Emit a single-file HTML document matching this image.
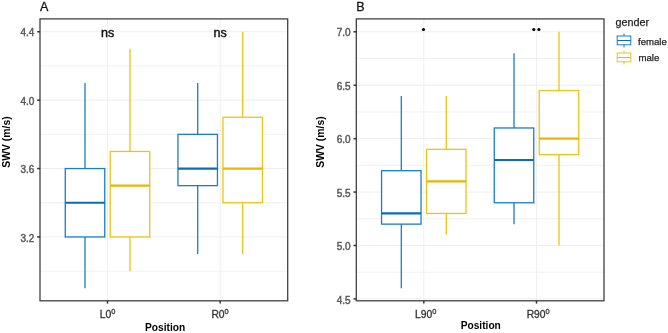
<!DOCTYPE html><html><head><meta charset="utf-8"><style>html,body{margin:0;padding:0;background:#fff;width:668px;height:333px;overflow:hidden}svg{display:block;filter:blur(0.25px)}text{font-family:"Liberation Sans",sans-serif}.tl{font-size:10px;fill:#5a5a5a;stroke:#5a5a5a;stroke-width:0.45px}.xl{font-size:10.3px;fill:#333;stroke:#333;stroke-width:0.3px}.ti{font-size:10.2px;font-weight:bold;fill:#000}.tag{font-size:12.5px;fill:#111;stroke:#111;stroke-width:0.3px}.ns{font-size:12.5px;fill:#111;stroke:#111;stroke-width:0.4px}.lg{font-size:9.6px;fill:#222;stroke:#222;stroke-width:0.25px}.lt{font-size:10.8px;fill:#222;stroke:#222;stroke-width:0.25px}</style></head><body>
<svg width="668" height="333" viewBox="0 0 668 333">
<rect width="668" height="333" fill="#fff"/>
<line x1="40" y1="271.15" x2="287.7" y2="271.15" stroke="#eeeeee" stroke-width="0.8"/>
<line x1="40" y1="202.75" x2="287.7" y2="202.75" stroke="#eeeeee" stroke-width="0.8"/>
<line x1="40" y1="134.35" x2="287.7" y2="134.35" stroke="#eeeeee" stroke-width="0.8"/>
<line x1="40" y1="65.95" x2="287.7" y2="65.95" stroke="#eeeeee" stroke-width="0.8"/>
<line x1="40" y1="236.95" x2="287.7" y2="236.95" stroke="#eeeeee" stroke-width="1.0"/>
<line x1="40" y1="168.55" x2="287.7" y2="168.55" stroke="#eeeeee" stroke-width="1.0"/>
<line x1="40" y1="100.15" x2="287.7" y2="100.15" stroke="#eeeeee" stroke-width="1.0"/>
<line x1="40" y1="31.75" x2="287.7" y2="31.75" stroke="#eeeeee" stroke-width="1.0"/>
<line x1="107.5" y1="18.9" x2="107.5" y2="300.8" stroke="#f0f0f0" stroke-width="1.0"/>
<line x1="220.2" y1="18.9" x2="220.2" y2="300.8" stroke="#f0f0f0" stroke-width="1.0"/>
<line x1="85" y1="83.05" x2="85" y2="168.55" stroke="#1a7dca" stroke-width="1.3"/>
<line x1="85" y1="236.95" x2="85" y2="288.25" stroke="#1a7dca" stroke-width="1.3"/>
<rect x="65.25" y="168.55" width="39.5" height="68.4" fill="#fff" stroke="#1a7dca" stroke-width="1.3"/>
<line x1="65.25" y1="202.75" x2="104.75" y2="202.75" stroke="#0b6cbd" stroke-width="2.2"/>
<line x1="130" y1="48.85" x2="130" y2="151.45" stroke="#efc21a" stroke-width="1.3"/>
<line x1="130" y1="236.95" x2="130" y2="271.15" stroke="#efc21a" stroke-width="1.3"/>
<rect x="110.25" y="151.45" width="39.5" height="85.5" fill="#fff" stroke="#efc21a" stroke-width="1.3"/>
<line x1="110.25" y1="185.65" x2="149.75" y2="185.65" stroke="#eab600" stroke-width="2.2"/>
<line x1="197.7" y1="83.05" x2="197.7" y2="134.35" stroke="#1a7dca" stroke-width="1.3"/>
<line x1="197.7" y1="185.65" x2="197.7" y2="254.05" stroke="#1a7dca" stroke-width="1.3"/>
<rect x="177.95" y="134.35" width="39.5" height="51.3" fill="#fff" stroke="#1a7dca" stroke-width="1.3"/>
<line x1="177.95" y1="168.55" x2="217.45" y2="168.55" stroke="#0b6cbd" stroke-width="2.2"/>
<line x1="242.7" y1="31.75" x2="242.7" y2="117.25" stroke="#efc21a" stroke-width="1.3"/>
<line x1="242.7" y1="202.75" x2="242.7" y2="254.05" stroke="#efc21a" stroke-width="1.3"/>
<rect x="222.95" y="117.25" width="39.5" height="85.5" fill="#fff" stroke="#efc21a" stroke-width="1.3"/>
<line x1="222.95" y1="168.55" x2="262.45" y2="168.55" stroke="#eab600" stroke-width="2.2"/>
<rect x="40" y="18.9" width="247.7" height="281.9" fill="none" stroke="#404040" stroke-width="1.3"/>
<line x1="37.2" y1="236.95" x2="40" y2="236.95" stroke="#333" stroke-width="1.5"/>
<text x="34" y="241.55" text-anchor="end" class="tl" dx="0.3">3.2</text>
<line x1="37.2" y1="168.55" x2="40" y2="168.55" stroke="#333" stroke-width="1.5"/>
<text x="34" y="173.15" text-anchor="end" class="tl" dx="0.3">3.6</text>
<line x1="37.2" y1="100.15" x2="40" y2="100.15" stroke="#333" stroke-width="1.5"/>
<text x="34" y="104.75" text-anchor="end" class="tl" dx="0.3">4.0</text>
<line x1="37.2" y1="31.75" x2="40" y2="31.75" stroke="#333" stroke-width="1.5"/>
<text x="34" y="36.35" text-anchor="end" class="tl" dx="0.3">4.4</text>
<line x1="107.5" y1="300.8" x2="107.5" y2="303.6" stroke="#333" stroke-width="1.5"/>
<text x="99.8" y="318.4" class="xl">L0<tspan dy="-4.3" font-size="7.4">0</tspan></text>
<line x1="220.2" y1="300.8" x2="220.2" y2="303.6" stroke="#333" stroke-width="1.5"/>
<text x="211.4" y="318.4" class="xl">R0<tspan dy="-4.3" font-size="7.4">0</tspan></text>
<text x="165.15" y="331.2" text-anchor="middle" class="ti">Position</text>
<text transform="translate(9.5,142) rotate(-90)" text-anchor="middle" class="ti" style="font-size:10.4px">SWV (m/s)</text>
<text x="40" y="10.8" class="tag">A</text>
<text x="107.6" y="36.5" text-anchor="middle" class="ns">ns</text>
<text x="220.2" y="36.5" text-anchor="middle" class="ns">ns</text>
<line x1="356.3" y1="272.21" x2="604" y2="272.21" stroke="#eeeeee" stroke-width="0.8"/>
<line x1="356.3" y1="218.79" x2="604" y2="218.79" stroke="#eeeeee" stroke-width="0.8"/>
<line x1="356.3" y1="165.36" x2="604" y2="165.36" stroke="#eeeeee" stroke-width="0.8"/>
<line x1="356.3" y1="111.94" x2="604" y2="111.94" stroke="#eeeeee" stroke-width="0.8"/>
<line x1="356.3" y1="58.51" x2="604" y2="58.51" stroke="#eeeeee" stroke-width="0.8"/>
<line x1="356.3" y1="298.93" x2="604" y2="298.93" stroke="#eeeeee" stroke-width="1.0"/>
<line x1="356.3" y1="245.5" x2="604" y2="245.5" stroke="#eeeeee" stroke-width="1.0"/>
<line x1="356.3" y1="192.07" x2="604" y2="192.07" stroke="#eeeeee" stroke-width="1.0"/>
<line x1="356.3" y1="138.65" x2="604" y2="138.65" stroke="#eeeeee" stroke-width="1.0"/>
<line x1="356.3" y1="85.22" x2="604" y2="85.22" stroke="#eeeeee" stroke-width="1.0"/>
<line x1="356.3" y1="31.8" x2="604" y2="31.8" stroke="#eeeeee" stroke-width="1.0"/>
<line x1="423.8" y1="18.9" x2="423.8" y2="300.8" stroke="#f0f0f0" stroke-width="1.0"/>
<line x1="536.5" y1="18.9" x2="536.5" y2="300.8" stroke="#f0f0f0" stroke-width="1.0"/>
<line x1="401.3" y1="95.91" x2="401.3" y2="170.7" stroke="#1a7dca" stroke-width="1.3"/>
<line x1="401.3" y1="224.13" x2="401.3" y2="288.24" stroke="#1a7dca" stroke-width="1.3"/>
<rect x="381.55" y="170.7" width="39.5" height="53.43" fill="#fff" stroke="#1a7dca" stroke-width="1.3"/>
<line x1="381.55" y1="213.45" x2="421.05" y2="213.45" stroke="#0b6cbd" stroke-width="2.2"/>
<line x1="446.3" y1="95.91" x2="446.3" y2="149.33" stroke="#efc21a" stroke-width="1.3"/>
<line x1="446.3" y1="213.45" x2="446.3" y2="234.82" stroke="#efc21a" stroke-width="1.3"/>
<rect x="426.55" y="149.33" width="39.5" height="64.11" fill="#fff" stroke="#efc21a" stroke-width="1.3"/>
<line x1="426.55" y1="181.39" x2="466.05" y2="181.39" stroke="#eab600" stroke-width="2.2"/>
<line x1="514" y1="53.17" x2="514" y2="127.97" stroke="#1a7dca" stroke-width="1.3"/>
<line x1="514" y1="202.76" x2="514" y2="224.13" stroke="#1a7dca" stroke-width="1.3"/>
<rect x="494.25" y="127.97" width="39.5" height="74.79" fill="#fff" stroke="#1a7dca" stroke-width="1.3"/>
<line x1="494.25" y1="160.02" x2="533.75" y2="160.02" stroke="#0b6cbd" stroke-width="2.2"/>
<line x1="559" y1="31.8" x2="559" y2="90.57" stroke="#efc21a" stroke-width="1.3"/>
<line x1="559" y1="154.68" x2="559" y2="245.5" stroke="#efc21a" stroke-width="1.3"/>
<rect x="539.25" y="90.57" width="39.5" height="64.11" fill="#fff" stroke="#efc21a" stroke-width="1.3"/>
<line x1="539.25" y1="138.65" x2="578.75" y2="138.65" stroke="#eab600" stroke-width="2.2"/>
<rect x="356.3" y="18.9" width="247.7" height="281.9" fill="none" stroke="#404040" stroke-width="1.3"/>
<line x1="353.5" y1="298.93" x2="356.3" y2="298.93" stroke="#333" stroke-width="1.5"/>
<text x="350.3" y="303.53" text-anchor="end" class="tl" dx="0.3">4.5</text>
<line x1="353.5" y1="245.5" x2="356.3" y2="245.5" stroke="#333" stroke-width="1.5"/>
<text x="350.3" y="250.1" text-anchor="end" class="tl" dx="0.3">5.0</text>
<line x1="353.5" y1="192.07" x2="356.3" y2="192.07" stroke="#333" stroke-width="1.5"/>
<text x="350.3" y="196.67" text-anchor="end" class="tl" dx="0.3">5.5</text>
<line x1="353.5" y1="138.65" x2="356.3" y2="138.65" stroke="#333" stroke-width="1.5"/>
<text x="350.3" y="143.25" text-anchor="end" class="tl" dx="0.3">6.0</text>
<line x1="353.5" y1="85.22" x2="356.3" y2="85.22" stroke="#333" stroke-width="1.5"/>
<text x="350.3" y="89.82" text-anchor="end" class="tl" dx="0.3">6.5</text>
<line x1="353.5" y1="31.8" x2="356.3" y2="31.8" stroke="#333" stroke-width="1.5"/>
<text x="350.3" y="36.4" text-anchor="end" class="tl" dx="0.3">7.0</text>
<line x1="423.8" y1="300.8" x2="423.8" y2="303.6" stroke="#333" stroke-width="1.5"/>
<text x="415.1" y="318.4" class="xl">L90<tspan dy="-4.3" font-size="7.4">0</tspan></text>
<line x1="536.5" y1="300.8" x2="536.5" y2="303.6" stroke="#333" stroke-width="1.5"/>
<text x="526.7" y="318.4" class="xl">R90<tspan dy="-4.3" font-size="7.4">0</tspan></text>
<text x="480.75" y="329" text-anchor="middle" class="ti">Position</text>
<text transform="translate(324,142) rotate(-90)" text-anchor="middle" class="ti" style="font-size:10.4px">SWV (m/s)</text>
<text x="356.3" y="10.8" class="tag">B</text>
<circle cx="423.5" cy="29.5" r="1.6" fill="#000"/>
<circle cx="533.8" cy="29.5" r="1.6" fill="#000"/>
<circle cx="538.9" cy="29.5" r="1.6" fill="#000"/>
<text x="615.4" y="26" class="lt">gender</text>
<line x1="624" y1="33.5" x2="624" y2="47.5" stroke="#1a7dca" stroke-width="1.0"/><rect x="617.2" y="36.0" width="13.6" height="8.8" fill="#fff" stroke="#1a7dca" stroke-width="1.0"/><line x1="617.2" y1="40.5" x2="630.8" y2="40.5" stroke="#0b6cbd" stroke-width="1.0"/>
<line x1="624" y1="50.5" x2="624" y2="64.5" stroke="#efc21a" stroke-width="1.0"/><rect x="617.2" y="53.0" width="13.6" height="8.8" fill="#fff" stroke="#efc21a" stroke-width="1.0"/><line x1="617.2" y1="57.5" x2="630.8" y2="57.5" stroke="#eab600" stroke-width="1.0"/>
<text x="638" y="44.5" class="lg">female</text>
<text x="638.5" y="61" class="lg">male</text>
</svg></body></html>
